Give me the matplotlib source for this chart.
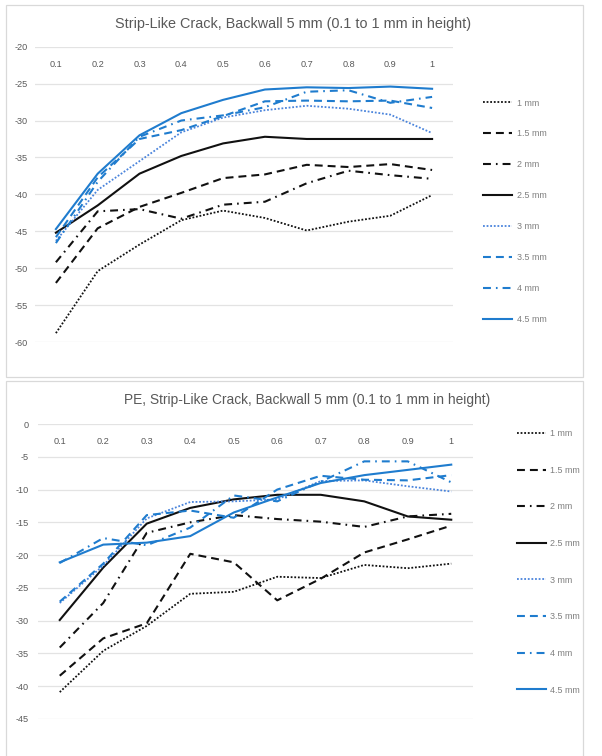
import numpy as np
import matplotlib
matplotlib.use('Agg')
import matplotlib.pyplot as plt
from matplotlib.patches import Rectangle

plt.rcParams['font.family'] = ['Liberation Sans', 'DejaVu Sans']
plt.rcParams['axes.unicode_minus'] = False

# crack heights (mm) on the category axis
heights = ['0.1', '0.2', '0.3', '0.4', '0.5', '0.6', '0.7', '0.8', '0.9', '1']
series_names = ['1 mm', '1.5 mm', '2 mm', '2.5 mm', '3 mm', '3.5 mm', '4 mm', '4.5 mm']

# top chart: backwall 5 mm
bw_1 = [-58.8, -50.4, -46.8, -43.5, -42.2, -43.2, -44.9, -43.7, -42.9, -40.1]
bw_1_5 = [-52.0, -44.6, -41.7, -39.8, -37.8, -37.3, -36.0, -36.3, -35.9, -36.7]
bw_2 = [-49.2, -42.3, -42.0, -43.3, -41.4, -41.0, -38.5, -36.8, -37.4, -37.9]
bw_2_5 = [-45.2, -41.5, -37.2, -34.8, -33.1, -32.2, -32.5, -32.5, -32.5, -32.5]
bw_3 = [-46.3, -39.4, -35.5, -31.6, -29.6, -28.6, -28.0, -28.4, -29.2, -31.7]
bw_3_5 = [-45.8, -37.7, -32.5, -31.3, -29.4, -27.4, -27.3, -27.4, -27.3, -28.3]
bw_4 = [-46.6, -38.3, -32.2, -30.0, -29.3, -28.2, -26.1, -25.9, -27.6, -26.8]
bw_4_5 = [-44.7, -37.2, -32.0, -29.0, -27.2, -25.8, -25.5, -25.6, -25.4, -25.7]

# bottom chart: PE, backwall 5 mm
pe_1 = [-40.9, -34.6, -30.8, -25.9, -25.6, -23.3, -23.5, -21.5, -22.0, -21.3]
pe_1_5 = [-38.4, -32.7, -30.4, -19.8, -21.1, -26.9, -23.6, -19.6, -17.6, -15.5]
pe_2 = [-34.1, -27.3, -16.6, -15.0, -13.9, -14.5, -14.9, -15.7, -14.1, -13.7]
pe_2_5 = [-29.9, -21.9, -15.2, -12.8, -11.5, -10.8, -10.8, -11.8, -14.1, -14.6]
pe_3 = [-27.3, -21.6, -14.4, -11.9, -11.8, -11.5, -8.7, -8.6, -9.5, -10.3]
pe_3_5 = [-27.1, -21.3, -13.9, -13.2, -14.3, -10.0, -7.9, -8.5, -8.6, -7.8]
pe_4 = [-21.2, -17.4, -18.5, -15.8, -10.9, -11.8, -8.8, -5.7, -5.7, -8.9]
pe_4_5 = [-21.1, -18.4, -18.1, -17.1, -13.5, -11.2, -9.0, -7.8, -7.0, -6.2]

black = '#111111'
blue = '#1f7cce'
light_blue = '#4a84dc'
dash = (0, (3.8, 2.4))
dashdot = (0, (3.8, 2.4, 0.8, 2.4))
dot = (0, (1, 1))
styles = [
    (black, dot, 1.3),
    (black, dash, 1.5),
    (black, dashdot, 1.5),
    (black, '-', 1.5),
    (light_blue, dot, 1.3),
    (blue, dash, 1.5),
    (blue, dashdot, 1.5),
    (blue, '-', 1.5),
]

W, H = 602, 756
fig = plt.figure(figsize=(W / 100, H / 100), dpi=100)


def px_axes(left, top, right, bottom):
    return fig.add_axes([left / W, 1 - bottom / H, (right - left) / W, (bottom - top) / H])


def draw_chart(ax, data, ymin, ymax, ypad, legend_x, legend_top, spacing):
    x = np.arange(len(heights))
    lines = []
    for vals, name, (c, ls, lw) in zip(data, series_names, styles):
        ln, = ax.plot(x, vals, color=c, linestyle=ls, linewidth=lw, label=name)
        lines.append(ln)
    ax.set_xlim(-0.5, len(heights) - 0.5)
    ax.set_ylim(ymin, ymax)
    ax.set_yticks(np.arange(ymin, ymax + 1, 5))
    ax.yaxis.grid(True, color='#e3e3e3', linewidth=0.9)
    ax.set_axisbelow(True)
    for s in ax.spines.values():
        s.set_visible(False)
    ax.xaxis.tick_top()
    ax.set_xticks(x)
    ax.set_xticklabels(heights)
    ax.tick_params(axis='x', length=0, pad=-16, labelsize=6.6, labelcolor='#595959')
    ax.tick_params(axis='y', length=0, pad=ypad, labelsize=6.6, labelcolor='#595959')
    leg = ax.legend(handles=lines, loc='upper left', frameon=False,
                    bbox_to_anchor=(legend_x / W, 1 - legend_top / H),
                    bbox_transform=fig.transFigure, borderpad=0, borderaxespad=0,
                    fontsize=6.4, handlelength=3.3, handletextpad=0.5,
                    labelspacing=spacing)
    for t in leg.get_texts():
        t.set_color('#7f7f7f')


# chart borders
fig.patches.append(Rectangle((5.5 / W, 1 - 376.5 / H), 577 / W, 372 / H, transform=fig.transFigure,
                             fill=False, edgecolor='#d9d9d9', linewidth=0.9))
fig.patches.append(Rectangle((5.5 / W, -0.01), 577 / W, (H - 381.5) / H + 0.01, transform=fig.transFigure,
                             fill=False, edgecolor='#d9d9d9', linewidth=0.9))

ax1 = px_axes(35, 46.7, 453, 342)
draw_chart(ax1, [bw_1, bw_1_5, bw_2, bw_2_5, bw_3, bw_3_5, bw_4, bw_4_5],
           -60, -20, 5.5, 483, 98.5, 2.47)
fig.text(293 / W, 1 - 24 / H, 'Strip-Like Crack, Backwall 5 mm (0.1 to 1 mm in height)',
         ha='center', va='center', fontsize=10.4, color='#595959')

ax2 = px_axes(38, 424, 473, 719)
draw_chart(ax2, [pe_1, pe_1_5, pe_2, pe_2_5, pe_3, pe_3_5, pe_4, pe_4_5],
           -45, 0, 6.5, 516.7, 429, 3.11)
fig.text(306.7 / W, 1 - 400 / H, 'PE, Strip-Like Crack, Backwall 5 mm (0.1 to 1 mm in height)',
         ha='center', va='center', fontsize=9.9, color='#595959')

fig.savefig('out.png', dpi=100)
